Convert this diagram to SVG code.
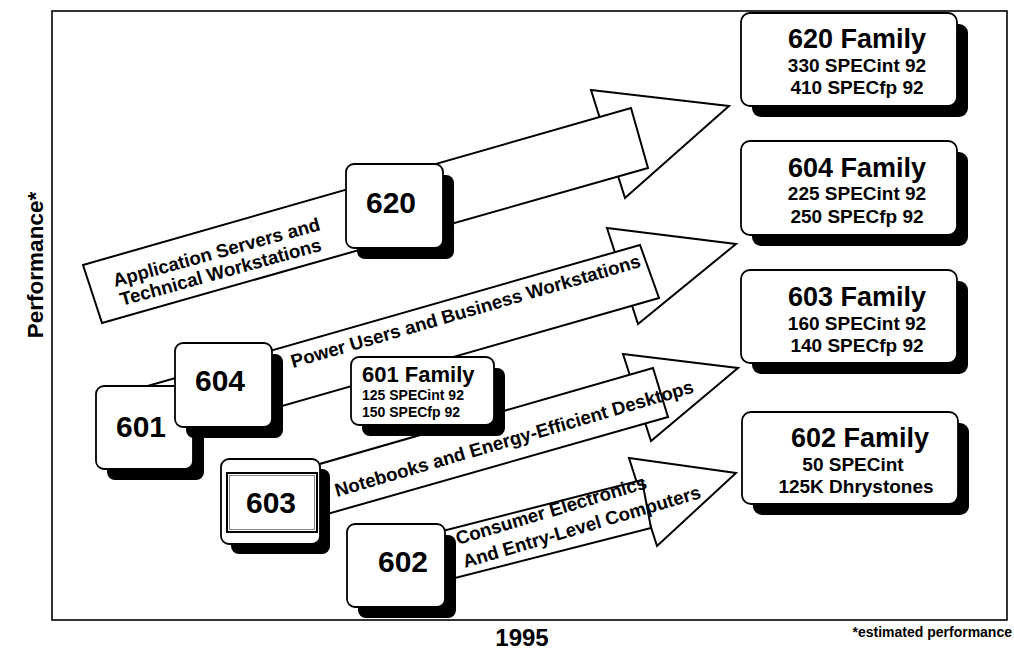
<svg xmlns="http://www.w3.org/2000/svg" width="1014" height="650" viewBox="0 0 1014 650">
<style>
.frame{fill:none;stroke:#000;stroke-width:1.6}
.arr{fill:#fff;stroke:#000;stroke-width:2;stroke-linejoin:miter}
.shadow{fill:#000}
.box{fill:#fff;stroke:#000;stroke-width:1.8}
.t{font-family:"Liberation Sans",Arial,Helvetica,sans-serif;font-weight:bold;fill:#000}
.num{font-size:30px;text-anchor:middle}
.fam{font-size:27px;text-anchor:middle}
.sub{font-size:19px;text-anchor:middle}
.lbl{font-size:18.7px}
</style>
<rect width="1014" height="650" fill="#fff"/>
<rect class="frame" x="52" y="11" width="955" height="609"/>

<g id="connectors">
  <polygon class="arr" points="591,90 729,106 625,198"/>
  <polygon class="arr" points="83,265 631,108 648,168 102,323"/>
  <polygon class="arr" points="607,228 736,244 638,324"/>
  <polygon class="arr" points="130,391 640,245 659,298 146,445"/>
  <polygon class="arr" points="623,354 738,368 651,441"/>
  <polygon class="arr" points="250,484 653,368 668,417 264,532"/>
  <polygon class="arr" points="629,458 736,473 657,546"/>
  <polygon class="arr" points="380,547 642,480 651,528 392,594"/>
</g>

<g id="n601">
  <rect class="shadow" x="107" y="397" width="97" height="83" rx="8"/>
  <rect class="box" x="96" y="386" width="97" height="83" rx="8"/>
  <text class="t num" x="141" y="437">601</text>
</g>
<g id="n604">
  <rect class="shadow" x="186" y="354" width="97" height="84" rx="8"/>
  <rect class="box" x="175" y="343" width="97" height="84" rx="8"/>
  <text class="t num" x="220" y="391">604</text>
</g>
<g id="n603">
  <rect class="shadow" x="231" y="469" width="99" height="85" rx="8"/>
  <rect class="box" x="221" y="459" width="99" height="85" rx="8"/>
  <rect x="227" y="473" width="90" height="59" fill="none" stroke="#000" stroke-width="2"/>
  <rect x="229.5" y="475.5" width="85" height="54" fill="none" stroke="#888" stroke-width="1"/>
  <text class="t num" x="271" y="513">603</text>
</g>
<g id="n602">
  <rect class="shadow" x="358" y="535" width="98" height="83" rx="8"/>
  <rect class="box" x="347" y="524" width="98" height="83" rx="8"/>
  <text class="t num" x="403" y="572">602</text>
</g>
<g id="n620">
  <rect class="shadow" x="357" y="175" width="97" height="84" rx="8"/>
  <rect class="box" x="346" y="164" width="97" height="84" rx="8"/>
  <text class="t num" x="391" y="213">620</text>
</g>
<g id="n601fam">
  <rect class="shadow" x="362" y="368" width="143" height="68" rx="8"/>
  <rect class="box" x="351" y="357" width="143" height="68" rx="8"/>
  <text class="t" x="362" y="382" font-size="22">601 Family</text>
  <text class="t" x="362" y="400" font-size="14">125 SPECint 92</text>
  <text class="t" x="362" y="417" font-size="14">150 SPECfp 92</text>
</g>

<g id="f620">
  <rect class="shadow" x="752" y="24" width="216" height="93" rx="9"/>
  <rect class="box" x="741" y="13" width="216" height="93" rx="9"/>
  <text class="t fam" x="857" y="48">620 Family</text>
  <text class="t sub" x="857" y="72">330 SPECint 92</text>
  <text class="t sub" x="857" y="94">410 SPECfp 92</text>
</g>
<g id="f604">
  <rect class="shadow" x="752" y="152" width="216" height="94" rx="9"/>
  <rect class="box" x="741" y="141" width="216" height="94" rx="9"/>
  <text class="t fam" x="857" y="177">604 Family</text>
  <text class="t sub" x="857" y="200">225 SPECint 92</text>
  <text class="t sub" x="857" y="223">250 SPECfp 92</text>
</g>
<g id="f603">
  <rect class="shadow" x="752" y="281" width="216" height="93" rx="9"/>
  <rect class="box" x="741" y="270" width="216" height="93" rx="9"/>
  <text class="t fam" x="857" y="306">603 Family</text>
  <text class="t sub" x="857" y="330">160 SPECint 92</text>
  <text class="t sub" x="857" y="352">140 SPECfp 92</text>
</g>
<g id="f602">
  <rect class="shadow" x="753" y="423" width="216" height="92" rx="9"/>
  <rect class="box" x="742" y="412" width="216" height="92" rx="9"/>
  <text class="t fam" x="860" y="447">602 Family</text>
  <text class="t sub" x="853" y="471">50 SPECint</text>
  <text class="t sub" x="856" y="493">125K Dhrystones</text>
</g>

<g id="labels">
  <text class="t lbl" font-size="19" transform="translate(115,287) rotate(-15.5)">Application Servers and</text>
  <text class="t lbl" font-size="19" transform="translate(122,306) rotate(-15.5)">Technical Workstations</text>
  <text class="t lbl" transform="translate(293,368) rotate(-16.2)">Power Users and Business Workstations</text>
  <text class="t lbl" transform="translate(337,497) rotate(-16.3)">Notebooks and Energy-Efficient Desktops</text>
  <text class="t lbl" transform="translate(458,545) rotate(-16.7)">Consumer Electronics</text>
  <text class="t lbl" transform="translate(465,568) rotate(-16.5)">And Entry-Level Computers</text>
</g>

<g id="axes">
  <text class="t" font-size="22.5" text-anchor="middle" transform="translate(43,265) rotate(-90)">Performance*</text>
  <text class="t" font-size="24" text-anchor="middle" x="522" y="646">1995</text>
  <text class="t" font-size="14" text-anchor="end" x="1012" y="637">*estimated performance</text>
</g>
</svg>
